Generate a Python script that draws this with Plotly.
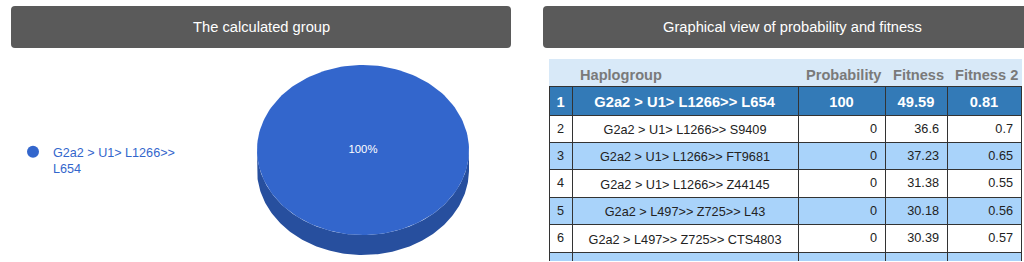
import math
import plotly.graph_objects as go

W, H = 1024, 262

# ---------------- data ----------------
pie_labels = ["G2a2 > U1> L1266>> L654"]
pie_legend_text = ["G2a2 > U1> L1266>><br>L654"]
pie_values = [100]
pie_colors = ["#3366cc"]
pie_side_colors = ["#274f9e"]

ranks = [1, 2, 3, 4, 5, 6, 7]
haplogroups = [
    "G2a2 > U1> L1266>> L654",
    "G2a2 > U1> L1266>> S9409",
    "G2a2 > U1> L1266>> FT9681",
    "G2a2 > U1> L1266>> Z44145",
    "G2a2 > L497>> Z725>> L43",
    "G2a2 > L497>> Z725>> CTS4803",
    "G2a2 > P303>> L140",
]
probability = [100, 0, 0, 0, 0, 0, 0]
fitness = [49.59, 36.6, 37.23, 31.38, 30.18, 30.39, 30.24]
fitness2 = [0.81, 0.7, 0.65, 0.55, 0.56, 0.57, 0.55]
col_headers = ["", "Haplogroup", "Probability", "Fitness", "Fitness 2"]

panel_titles = ["The calculated group", "Graphical view of probability and fitness"]

FONT = "Liberation Sans, Arial, sans-serif"
NB = "\u00a0"


def px(x):
    return x / W


def py(y):
    return 1 - y / H


def nobreak(s):
    return str(s).replace(" ", NB)


fig = go.Figure()

# ---------------- 3D pie (elliptical, drawn on axes) ----------------
total = sum(pie_values)
depth = 20 / 85.0
start = 0.0
N = 180
for lab, leg, val, col, scol in zip(pie_labels, pie_legend_text, pie_values,
                                     pie_colors, pie_side_colors):
    frac = val / total
    a0, a1 = start, start + frac * 2 * math.pi
    start = a1
    s0, s1 = max(a0, math.pi / 2), min(a1, 3 * math.pi / 2)
    if s1 > s0:
        ts = [s0 + (s1 - s0) * i / N for i in range(N + 1)]
        sx = [math.sin(t) for t in ts] + [math.sin(t) for t in reversed(ts)]
        sy = [math.cos(t) for t in ts] + [math.cos(t) - depth for t in reversed(ts)]
        fig.add_trace(go.Scatter(x=sx, y=sy, mode="lines", fill="toself",
                                 fillcolor=scol, line=dict(width=0, color=scol),
                                 hoverinfo="skip", showlegend=False))
    ts = [a0 + (a1 - a0) * i / N for i in range(N + 1)]
    tx = [math.sin(t) for t in ts]
    ty = [math.cos(t) for t in ts]
    if frac < 1:
        tx = [0] + tx + [0]
        ty = [0] + ty + [0]
    fig.add_trace(go.Scatter(x=tx, y=ty, mode="lines", fill="toself",
                             fillcolor=col, line=dict(width=0, color=col),
                             hoverinfo="skip", showlegend=False, name=lab))
    if frac >= 1:
        lx, ly = 0, 0
    else:
        m = (a0 + a1) / 2
        lx, ly = 0.6 * math.sin(m), 0.6 * math.cos(m)
    fig.add_trace(go.Scatter(x=[lx], y=[ly], mode="text",
                             text=[f"{round(frac * 100)}%"],
                             textfont=dict(color="white", size=11.3, family=FONT),
                             hoverinfo="skip", showlegend=False))
    fig.add_trace(go.Scatter(x=[None], y=[None], mode="markers",
                             marker=dict(color=col, size=12, symbol="circle"),
                             name=leg))

cx, cy, rx, ry = 363, 150, 106, 85
fig.update_layout(
    xaxis=dict(domain=[0, 0.5], range=[-cx / rx, (512 - cx) / rx],
               visible=False, fixedrange=True),
    yaxis=dict(domain=[0, 1], range=[-(H - cy) / ry, cy / ry],
               visible=False, fixedrange=True),
)

# ---------------- table ----------------
# Plotly enforces an 8px cell padding, so each row is its own stacked table
# block; every block is drawn over the overflow of the previous one.
n = len(ranks)
blue_dark = "#337ab7"
light = "#a9d3fa"
grid = "#333333"
colw = [23, 226, 87, 62, 74]
tx0, tx1 = px(549), px(1021)
table_top = 59
label_row_h = 27
first_row_h = 29
row_h = 27.4


def fmt_num(v):
    return f"{v:g}"


def row(i, bold=False):
    vals = [str(ranks[i]), nobreak(haplogroups[i]), fmt_num(probability[i]),
            fmt_num(fitness[i]), fmt_num(fitness2[i])]
    if bold:
        vals = [f"<b>{v}</b>" for v in vals]
    return vals


# column labels
fig.add_trace(go.Table(
    domain=dict(x=[tx0, tx1], y=[0, py(table_top)]),
    columnwidth=colw,
    header=dict(values=[f"<b>{nobreak(c)}</b>" for c in col_headers],
                fill_color="#d8e9f8", line_color="#d8e9f8",
                font=dict(color="#7a7a7a", size=14.6, family=FONT),
                align="left", height=label_row_h),
))

top = table_top + label_row_h
for i in range(n):
    if i == 0:
        fill, fcol, fsize, bold, h = blue_dark, "white", 14.7, True, first_row_h
        al = ["center"] * 5
    else:
        fill = "white" if i % 2 == 1 else light
        fcol, fsize, bold, h = "#222222", 12.7, False, row_h
        al = ["center", "center", "right", "right", "right"]
    fig.add_trace(go.Table(
        domain=dict(x=[tx0, tx1], y=[0, py(top)]),
        columnwidth=colw,
        header=dict(values=row(i, bold=bold), fill_color=fill,
                    line=dict(color=grid, width=1),
                    font=dict(color=fcol, size=fsize, family=FONT),
                    align=al, height=h),
    ))
    top += h


# ---------------- panel headers ----------------
def rounded(x0, y0, x1, y1, r=4):
    X0, X1 = px(x0), px(x1)
    Y0, Y1 = py(y0), py(y1)
    rx_, ry_ = px(r), r / H
    return (f"M {X0 + rx_} {Y0} L {X1 - rx_} {Y0} Q {X1} {Y0} {X1} {Y0 - ry_} "
            f"L {X1} {Y1 + ry_} Q {X1} {Y1} {X1 - rx_} {Y1} "
            f"L {X0 + rx_} {Y1} Q {X0} {Y1} {X0} {Y1 + ry_} "
            f"L {X0} {Y0 - ry_} Q {X0} {Y0} {X0 + rx_} {Y0} Z")


panels = [(11, 511), (543, 1041)]
shapes = []
annotations = []
for (x0, x1), title in zip(panels, panel_titles):
    shapes.append(dict(type="path", xref="paper", yref="paper",
                       path=rounded(x0, 6, x1, 48), fillcolor="#5a5a5a",
                       line=dict(width=0)))
    annotations.append(dict(xref="paper", yref="paper", x=px((x0 + x1) / 2), y=py(27),
                            text=title, showarrow=False, xanchor="center", yanchor="middle",
                            font=dict(color="white", size=14.7, family=FONT)))

fig.update_layout(
    width=W, height=H,
    margin=dict(l=0, r=0, t=0, b=0),
    paper_bgcolor="white", plot_bgcolor="white",
    shapes=shapes, annotations=annotations,
    showlegend=True,
    legend=dict(x=px(13), y=py(137), xanchor="left", yanchor="top",
                font=dict(color="#3366cc", size=12.6, family=FONT),
                bgcolor="rgba(0,0,0,0)", itemwidth=30, valign="top",
                tracegroupgap=0),
)

fig.write_html("out.html")
